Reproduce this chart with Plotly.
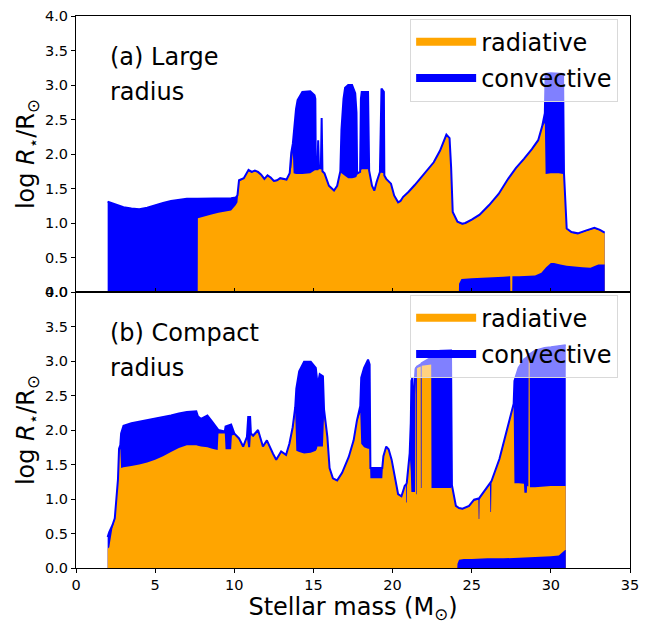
import plotly.graph_objects as go
from plotly.subplots import make_subplots

# ---------------- Panel (a): large radius ----------------
mass_a = [2.00, 2.50, 3.00, 3.50, 4.00, 4.50, 5.00, 5.50, 6.00, 6.50, 7.00, 7.69, 7.70, 8.50, 9.00,
          9.80, 10.10, 10.20, 10.30, 10.60, 10.90, 11.10, 11.30, 11.50, 11.70, 11.90, 12.10, 12.30,
          12.50, 12.70, 12.90, 13.10, 13.30, 13.50, 13.60, 13.70, 13.75, 13.90, 14.00, 14.30, 14.80,
          15.07, 15.12, 15.15, 15.25, 15.30, 15.35, 15.47, 15.52, 15.57, 15.70, 15.98, 16.30, 16.50,
          16.70, 16.77, 16.90, 17.00, 17.20, 17.44, 17.64, 17.72, 17.76, 17.95, 18.00, 18.05, 18.45,
          18.52, 18.70, 18.85, 19.00, 19.20, 19.30, 19.45, 19.48, 19.60, 19.90, 20.10, 20.35, 20.50,
          20.67, 21.00, 21.40, 21.80, 22.20, 22.60, 23.00, 23.30, 23.40, 23.60, 23.70, 23.80, 24.10,
          24.40, 24.60, 25.00, 25.50, 26.10, 26.70, 27.30, 27.80, 28.30, 28.80, 29.20, 29.45, 29.62,
          29.67, 30.00, 30.50, 30.77, 30.83, 31.00, 31.30, 31.70, 32.20, 32.75, 33.10, 33.40]
surf_a = [1.31, 1.27, 1.23, 1.21, 1.20, 1.22, 1.26, 1.29, 1.32, 1.34, 1.35, 1.35, 1.35, 1.35, 1.35,
          1.36, 1.37, 1.40, 1.62, 1.65, 1.77, 1.74, 1.76, 1.74, 1.70, 1.64, 1.69, 1.66,
          1.61, 1.62, 1.65, 1.64, 1.63, 1.72, 2.02, 2.15, 2.30, 2.65, 2.78, 2.90, 2.91,
          2.85, 2.80, 1.78, 1.78, 2.20, 1.80, 1.80, 2.52, 1.75, 1.72, 1.54, 1.47, 1.54,
          1.75, 2.35, 2.80, 2.96, 3.00, 3.00, 2.88, 2.60, 1.72, 1.74, 2.80, 2.90, 2.90,
          1.76, 1.54, 1.47, 1.60, 1.74, 2.95, 2.90, 1.69, 1.64, 1.57, 1.40, 1.30, 1.32,
          1.38, 1.45, 1.55, 1.66, 1.77, 1.88, 2.05, 2.21, 2.28, 2.23, 1.80, 1.16, 1.02,
          0.99, 1.00, 1.05, 1.12, 1.26, 1.42, 1.64, 1.80, 1.93, 2.07, 2.20, 2.40, 2.59,
          3.16, 3.17, 3.17, 3.16, 1.72, 0.92, 0.87, 0.85, 0.89, 0.93, 0.90, 0.86]
env_a = [0, 0, 0, 0, 0, 0, 0, 0, 0, 0, 0, 0, 1.07, 1.12, 1.15,
         1.18, 1.26, 1.30, 1.60, 1.64, 1.75, 1.73, 1.75, 1.73, 1.69, 1.63, 1.68, 1.65,
         1.60, 1.61, 1.64, 1.63, 1.62, 1.71, 1.80, 2.02, 1.72, 1.71, 1.71, 1.71, 1.72,
         1.76, 1.77, 1.77, 1.77, 1.77, 1.78, 1.78, 1.78, 1.74, 1.71, 1.53, 1.46, 1.53,
         1.74, 1.72, 1.70, 1.68, 1.65, 1.65, 1.66, 1.67, 1.70, 1.73, 1.76, 1.78, 1.78,
         1.75, 1.53, 1.46, 1.59, 1.73, 1.73, 1.72, 1.68, 1.63, 1.56, 1.39, 1.29, 1.31,
         1.37, 1.44, 1.54, 1.65, 1.76, 1.87, 2.04, 2.20, 2.27, 2.22, 1.79, 1.15, 1.01,
         0.98, 0.99, 1.04, 1.11, 1.25, 1.41, 1.63, 1.79, 1.92, 2.06, 2.19, 2.39, 2.45,
         1.71, 1.72, 1.72, 1.71, 1.70, 0.91, 0.86, 0.84, 0.88, 0.92, 0.89, 0.85]
core_mass_a = [24.19, 24.20, 24.35, 25.00, 26.00, 27.00, 27.43, 27.44, 27.56, 27.57, 28.00, 29.00,
               29.40, 29.70, 30.00, 30.20, 30.60, 31.00, 31.50, 32.00, 32.50, 32.80, 33.00, 33.40]
core_a = [0, 0.12, 0.19, 0.20, 0.21, 0.22, 0.23, 0, 0, 0.23, 0.23, 0.24,
          0.28, 0.36, 0.42, 0.42, 0.40, 0.38, 0.37, 0.36, 0.35, 0.38, 0.40, 0.40]

# ---------------- Panel (b): compact radius ----------------
mass_b = [2.00, 2.10, 2.30, 2.45, 2.55, 2.65, 2.72, 2.80, 2.85, 3.00, 3.50, 4.00, 4.50, 5.00, 5.50,
          6.00, 6.50, 7.00, 7.60, 7.70, 7.90, 8.30, 8.60, 8.95, 9.00, 9.40, 9.45, 9.80, 9.85, 10.00,
          10.30, 10.56, 10.80, 10.88, 11.00, 11.05, 11.19, 11.50, 11.81, 12.06, 12.44, 12.65, 12.96,
          13.27, 13.48, 13.69, 13.85, 13.92, 14.10, 14.41, 14.83, 15.15, 15.22, 15.25, 15.31, 15.40,
          15.60, 15.67, 15.88, 16.02, 16.23, 16.50, 16.81, 17.23, 17.54, 17.75, 17.96, 18.02, 18.20,
          18.45, 18.55, 18.60, 19.35, 19.42, 19.60, 19.75, 19.94, 20.15, 20.35, 20.56, 20.77, 20.85,
          20.86, 20.90, 20.91, 20.98, 21.08, 21.15, 21.19, 21.25, 21.29, 21.35, 21.42, 21.45, 21.48,
          21.49, 21.53, 21.54, 21.78, 21.79, 21.83, 21.84, 22.44, 22.46, 23.00, 23.69, 23.75, 24.00,
          24.20, 24.42, 24.83, 25.15, 25.42, 25.44, 25.48, 25.50, 25.90, 26.15, 26.18, 26.22, 26.25,
          26.75, 27.27, 27.54, 27.65, 27.70, 27.96, 28.30, 28.33, 28.48, 28.50, 28.58, 28.60, 28.66,
          28.68, 29.00, 29.60, 30.00, 30.50, 30.94]
surf_b = [0.45, 0.52, 0.62, 0.72, 1.00, 1.28, 1.73, 1.78, 1.95, 2.06, 2.10, 2.12, 2.14, 2.16, 2.18,
          2.21, 2.24, 2.26, 2.27, 2.20, 2.16, 2.21, 2.12, 2.02, 2.00, 1.98, 2.05, 2.08, 2.05, 1.95,
          1.88, 1.76, 1.90, 2.19, 2.19, 1.95, 1.92, 2.00, 1.76, 1.85, 1.66, 1.57, 1.69,
          1.64, 1.80, 2.04, 2.33, 2.60, 2.85, 2.99, 2.99, 2.90, 2.75, 1.85, 2.70, 2.81,
          2.78, 2.30, 1.90, 1.45, 1.30, 1.27, 1.38, 1.61, 1.85, 2.14, 2.35, 2.76, 2.90,
          3.02, 2.95, 1.45, 1.45, 1.62, 1.76, 1.72, 1.57, 1.28, 1.07, 1.04, 1.19, 1.21,
          1.21, 1.24, 1.26, 1.38, 1.66, 2.10, 2.71, 2.76, 2.20, 2.50, 2.85, 2.88, 2.90,
          2.90, 2.91, 2.92, 2.95, 2.95, 2.96, 2.97, 3.05, 3.10, 3.15, 3.16, 1.20, 0.90,
          0.87, 0.86, 0.90, 0.99, 1.00, 1.01, 1.01, 1.02, 1.14, 1.22, 1.23, 1.25, 1.26,
          1.58, 2.04, 2.28, 2.38, 2.71, 2.90, 3.02, 3.03, 3.05, 3.06, 3.08, 3.09, 3.10,
          3.10, 3.15, 3.19, 3.20, 3.22, 3.23]
env_b = [0.28, 0.30, 0.58, 0.70, 0.98, 1.26, 1.71, 1.72, 1.45, 1.46, 1.48, 1.50, 1.53, 1.57, 1.62,
         1.68, 1.74, 1.78, 1.78, 1.77, 1.76, 1.75, 1.73, 1.71, 1.95, 1.95, 1.72, 1.72, 1.92, 1.93,
         1.86, 1.75, 1.88, 1.75, 1.75, 1.93, 1.90, 1.98, 1.75, 1.84, 1.65, 1.56, 1.68,
         1.63, 1.79, 2.03, 2.25, 1.70, 1.68, 1.66, 1.67, 1.70, 1.73, 1.76, 1.76, 1.76,
         1.76, 2.20, 1.89, 1.44, 1.29, 1.26, 1.37, 1.60, 1.84, 2.12, 2.25, 1.80, 1.75,
         1.73, 1.73, 1.30, 1.30, 1.60, 1.75, 1.71, 1.56, 1.27, 1.06, 1.03, 1.18, 1.20,
         0.95, 0.95, 1.25, 1.37, 1.65, 1.40, 1.10, 1.10, 1.10, 1.10, 1.10, 2.85, 2.85,
         1.07, 1.07, 2.90, 2.92, 1.16, 1.16, 2.93, 2.95, 1.16, 1.16, 1.16, 1.18, 0.89,
         0.86, 0.85, 0.89, 0.98, 0.99, 0.71, 0.71, 1.01, 1.13, 1.21, 0.81, 0.81, 1.25,
         1.57, 2.03, 2.27, 2.35, 1.23, 1.23, 1.22, 1.09, 1.09, 1.19, 1.18, 3.05, 3.05,
         1.17, 1.17, 1.18, 1.19, 1.19, 1.19]
core_mass_b = [24.09, 24.10, 24.20, 24.50, 25.00, 26.00, 27.00, 28.00, 29.00, 30.00, 30.50, 30.70,
               30.90, 30.94]
core_b = [0, 0.06, 0.12, 0.13, 0.13, 0.14, 0.14, 0.15, 0.16, 0.17, 0.18, 0.22, 0.26, 0.26]

# ---------------- Axes / labels ----------------
x_ticks = [0, 5, 10, 15, 20, 25, 30, 35]
y_ticks = [0.0, 0.5, 1.0, 1.5, 2.0, 2.5, 3.0, 3.5, 4.0]
y_tick_labels = ["0.0", "0.5", "1.0", "1.5", "2.0", "2.5", "3.0", "3.5", "4.0"]
panel_labels = [("(a) Large", "radius"), ("(b) Compact", "radius")]

BLUE = "#0000ff"
ORANGE = "#ffa500"
FONT = "DejaVu Sans"

fig = make_subplots(rows=2, cols=1, shared_xaxes=True, vertical_spacing=0)

panels = [(mass_a, surf_a, env_a, core_mass_a, core_a),
          (mass_b, surf_b, env_b, core_mass_b, core_b)]

for i, (m, s, e, cm, c) in enumerate(panels):
    row = i + 1
    fig.add_trace(go.Scatter(x=m, y=s, fill="tozeroy", mode="none", fillcolor=BLUE,
                             showlegend=False, hoverinfo="skip"), row=row, col=1)
    fig.add_trace(go.Scatter(x=m, y=e, fill="tozeroy", mode="none", fillcolor=ORANGE,
                             showlegend=False, hoverinfo="skip"), row=row, col=1)
    fig.add_trace(go.Scatter(x=cm, y=c, fill="tozeroy", mode="none", fillcolor=BLUE,
                             showlegend=False, hoverinfo="skip"), row=row, col=1)
    fig.add_trace(go.Scatter(x=m, y=s, mode="lines", line=dict(color=BLUE, width=2),
                             showlegend=False, hoverinfo="skip"), row=row, col=1)
    leg = "legend" if i == 0 else "legend2"
    fig.add_trace(go.Scatter(x=[None], y=[None], mode="lines", name="radiative",
                             line=dict(color=ORANGE, width=8), legend=leg, legendgroup="r%d" % i),
                  row=row, col=1)
    fig.add_trace(go.Scatter(x=[None], y=[None], mode="lines", name="convective",
                             line=dict(color=BLUE, width=8), legend=leg, legendgroup="c%d" % i),
                  row=row, col=1)
    xr = "x" if i == 0 else "x2"
    yr = "y" if i == 0 else "y2"
    for txt, yy in zip(panel_labels[i], [3.40, 2.90]):
        fig.add_annotation(x=2.0, y=yy, xref=xr, yref=yr, text=txt, showarrow=False,
                           xanchor="left", yanchor="middle",
                           font=dict(size=24, family=FONT, color="black"))

legend_common = dict(xanchor="right", yanchor="top", bgcolor="rgba(255,255,255,0.5)",
                     bordercolor="#d9d9d9", borderwidth=1, font=dict(size=24, family=FONT),
                     tracegroupgap=2, itemwidth=60)

fig.update_layout(
    width=647, height=626,
    margin=dict(l=76, r=10, t=8, b=58),
    plot_bgcolor="white", paper_bgcolor="white",
    font=dict(family=FONT, color="black"),
    legend=dict(x=0.9786, y=0.995, **legend_common),
    legend2=dict(x=0.9786, y=0.495, **legend_common),
)

axis_common = dict(showline=True, linecolor="black", linewidth=1, mirror=True,
                   showgrid=False, zeroline=False, ticklen=4, tickwidth=1, tickcolor="black",
                   tickfont=dict(size=14.5, family=FONT))

fig.update_xaxes(range=[0, 35], tickvals=x_ticks, **axis_common)
fig.update_xaxes(ticks="inside", showticklabels=False, row=1, col=1)
fig.update_xaxes(ticks="outside", row=2, col=1,
                 title=dict(text="Stellar mass (M<sub>⊙</sub>)", font=dict(size=24, family=FONT),
                            standoff=4))
ytitle = "log <i>R</i><sub>⋆</sub>/R<sub>⊙</sub>"
fig.update_yaxes(range=[0, 4], tickvals=y_ticks, ticktext=y_tick_labels, ticks="outside",
                 title=dict(text=ytitle, font=dict(size=24, family=FONT), standoff=3),
                 **axis_common)

fig.write_html("out.html")
